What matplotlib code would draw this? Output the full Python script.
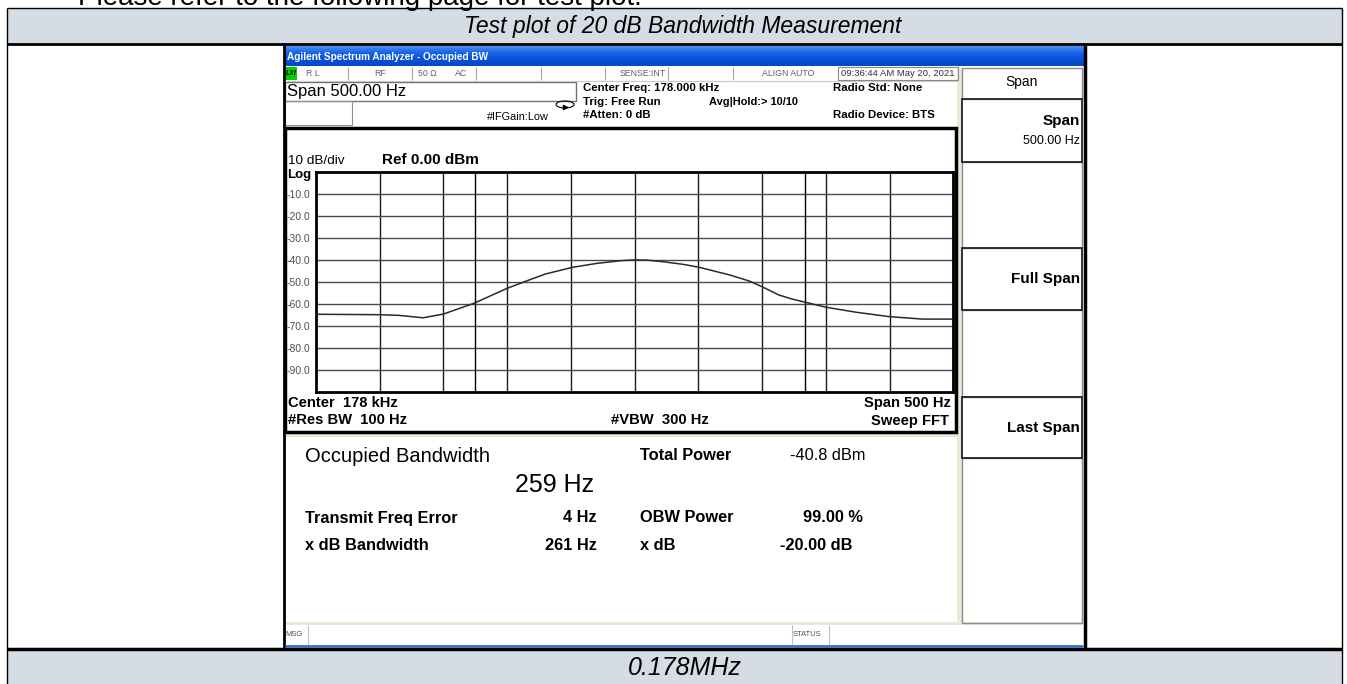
import numpy as np
import matplotlib
matplotlib.use("Agg")
import matplotlib.pyplot as plt
from matplotlib.patches import Rectangle, Ellipse
from matplotlib.colors import LinearSegmentedColormap

plt.rcParams["font.family"] = ["Liberation Sans", "DejaVu Sans"]

# trace (offset from center, dBm)
CENTER_HZ = 178000
SPAN_HZ = 500
freq_offset_hz = [-250, -200, -185, -166, -150, -126, -100, -85, -70, -49, -30, -10, 0, 10,
                  22, 38, 51, 75, 90, 100, 113, 123, 135, 150, 174, 200, 226, 250]
level_dbm = [-64.8, -65.0, -65.3, -66.4, -64.7, -59.8, -53.0, -49.7, -46.5, -43.5, -41.7, -40.4,
             -40.1, -40.2, -40.9, -42.1, -43.5, -47.0, -49.7, -52.3, -56.0, -57.8, -59.5, -61.6,
             -63.9, -65.9, -67.0, -67.0]
obw_edges_hz = [-125.5, 133.5]
ref_level = 0.0
db_per_div = 10
y_tick_labels = ["-10.0", "-20.0", "-30.0", "-40.0", "-50.0", "-60.0", "-70.0", "-80.0", "-90.0"]

# result table
results_left = [("Transmit Freq Error", "4 Hz"), ("x dB Bandwidth", "261 Hz")]
results_right = [("OBW Power", "99.00 %"), ("x dB", "-20.00 dB")]
softkeys = ["Span", "Full Span", "Last Span"]

W, H = 1347, 684
GRAY = "#D6DCE4"
BEIGE = "#ECE9D8"

fig = plt.figure(figsize=(W / 100, H / 100), dpi=100)
bg = fig.add_axes([0, 0, 1, 1])
bg.axis("off")


def box(x0, y0, x1, y1, fc="none", ec="none", lw=1.0, z=1):
    bg.add_patch(Rectangle((x0, y0), x1 - x0, y1 - y0, facecolor=fc, edgecolor=ec, lw=lw, zorder=z))


def txt(x, y, s, size=8, **kw):
    kw.setdefault("va", "center")
    kw.setdefault("ha", "left")
    bg.text(x, y, s, fontsize=size, zorder=5, **kw)


def vline(x, y0, y1, c="black", lw=1.0, z=3):
    bg.plot([x, x], [y0, y1], color=c, lw=lw, zorder=z, solid_capstyle="butt")


def hline(y, x0, x1, c="black", lw=1.0, z=3):
    bg.plot([x0, x1], [y, y], color=c, lw=lw, zorder=z, solid_capstyle="butt")


# document table
txt(78, 5, "Please refer to the following page for test plot.", size=20, va="baseline")
box(7, 8, 1342, 44, fc=GRAY, z=2)
txt(683, 26, "Test plot of 20 dB Bandwidth Measurement", size=16.5, style="italic", ha="center")
box(7, 649, 1342, 690, fc=GRAY)
txt(685, 668, "0.178MHz", size=18, style="italic", ha="center")
hline(8, 7, 1342, lw=1)
hline(44, 7, 1342, lw=2)
hline(649, 7, 1342, lw=2.5)
vline(7, 8, 684, lw=1)
vline(1341.5, 8, 684, lw=1)
vline(283.5, 44, 649, lw=2)
vline(1084.5, 44, 649, lw=2.5)

# analyzer window
box(285, 46, 1083, 648, fc="white", z=0.5)
blues = LinearSegmentedColormap.from_list("xp", ["#4A8CF2", "#1764E8", "#0A50D8", "#0846C4"])
grad = np.linspace(0, 1, 40).reshape(-1, 1)
bg.imshow(grad, extent=[284.5, 1083, 66, 46.5], aspect="auto", cmap=blues, origin="upper", zorder=2)
txt(287, 56.5, "Agilent Spectrum Analyzer - Occupied BW", size=7.2, color="white", weight="bold",
    family=["Liberation Sans Narrow", "Liberation Sans"])

# status row
box(285, 67, 297, 80, fc="#00D000", z=2)
txt(285.5, 73.5, "LXI", size=5, weight="bold", style="italic")
for sx in [348, 412, 476, 541, 605, 668, 733]:
    vline(sx, 67, 80, c="#A8A8A8", lw=0.8)
box(838, 67, 958, 80, ec="#888888", lw=0.8, z=2)
hline(81, 285, 958, c="#C8C8C8", lw=0.8)
for sx, s in [(306, "R L"), (380, "RF"), (418, "50 Ω"), (455, "AC")]:
    txt(sx, 73.5, s, size=6.3, color="#606060", ha="center" if s == "RF" else "left")
txt(643, 73.5, "SENSE:INT", size=6.3, color="#606060", ha="center")
txt(788, 73.5, "ALIGN AUTO", size=6.3, color="#606060", ha="center")
txt(841, 73.5, "09:36:44 AM May 20, 2021", size=6.8, color="#303030")

box(285, 82, 576, 100.7, ec="#707070", lw=1, z=2)
txt(287, 91.5, "Span 500.00 Hz", size=12)
box(285, 100.7, 352, 125, ec="#909090", lw=0.8, z=2)
bg.add_patch(Ellipse((565, 104.5), 18, 7, fc="none", ec="black", lw=0.8, zorder=3))
bg.plot([565], [107], marker=">", ms=3, color="black", zorder=4)
txt(487, 117.3, "#IFGain:Low", size=7.8)
txt(583, 88, "Center Freq: 178.000 kHz", size=8.2, weight="bold")
txt(583, 101.7, "Trig: Free Run", size=8.2, weight="bold")
txt(583, 115, "#Atten: 0 dB", size=8.2, weight="bold")
txt(709, 101.7, "Avg|Hold:> 10/10", size=7.9, weight="bold")
txt(833, 88, "Radio Std: None", size=8.2, weight="bold")
txt(833, 115, "Radio Device: BTS", size=8.2, weight="bold")

# graph window
box(285, 128, 956, 432, fc="white", ec="black", lw=2.5, z=2)
txt(288, 161, "10 dB/div", size=9.7)
txt(382, 159.5, "Ref 0.00 dBm", size=11, weight="bold")
txt(287, 175, "Log", size=9.5, weight="bold")
txt(288, 403, "Center  178 kHz", size=10.6, weight="bold")
txt(288, 420.5, "#Res BW  100 Hz", size=10.6, weight="bold")
txt(611, 420.5, "#VBW  300 Hz", size=10.6, weight="bold")
txt(951, 403, "Span 500 Hz", size=10.6, weight="bold", ha="right")
txt(949, 420.5, "Sweep FFT", size=10.6, weight="bold", ha="right")

# result panel
box(285, 433, 958, 437, fc=BEIGE, z=1)
box(957, 68, 962, 623, fc=BEIGE, z=1)
txt(305, 457, "Occupied Bandwidth", size=14.5)
txt(555, 485, "259 Hz", size=18, ha="center")
txt(640, 455, "Total Power", size=11.8, weight="bold")
txt(790, 455, "-40.8 dBm", size=11.8)
for (lab, val), yy in zip(results_left, [518, 545]):
    txt(305, yy, lab, size=11.8, weight="bold")
    txt(597, yy, val, size=11.8, weight="bold", ha="right")
for (lab, val), (yy, xr) in zip(results_right, [(518, 863), (545, 853)]):
    txt(640, yy, lab, size=11.8, weight="bold")
    txt(xr, yy, val, size=11.8, weight="bold", ha="right")

# message bar
box(285, 622, 1083, 625, fc=BEIGE, z=1)
txt(285.5, 635, "MSG", size=5.5, color="#505050")
vline(307.7, 625, 645, c="#C0C0C0", lw=0.8)
txt(793, 635, "STATUS", size=5.5, color="#505050")
vline(792, 625, 645, c="#C0C0C0", lw=0.8)
vline(828.6, 625, 645, c="#C0C0C0", lw=0.8)
hline(646, 285, 1083, c="#3A6EC8", lw=2, z=3)

# softkeys
box(962, 68, 1082, 99.3, ec="#8A8A8A", lw=1, z=2)
txt(1022, 82, softkeys[0], size=10, ha="center")
key_boxes = [(99.3, 161.7), (248.3, 310.3), (396.7, 458.3)]
empty_boxes = [(161.7, 248.3), (310.3, 396.7), (458.3, 623)]
for y0, y1 in empty_boxes:
    box(962, y0, 1082, y1, ec="#8A8A8A", lw=1, z=2)
for (y0, y1), name in zip(key_boxes, softkeys):
    box(962, y0, 1082, y1, ec="#222222", lw=1.3, z=2)
txt(1080, 121, softkeys[0], size=11, weight="bold", ha="right")
txt(1080, 141, "500.00 Hz", size=9, ha="right")
txt(1080, 279.3, softkeys[1], size=11, weight="bold", ha="right")
txt(1080, 428, softkeys[2], size=11, weight="bold", ha="right")

bg.set_xlim(0, W)
bg.set_ylim(H, 0)

# trace axes
x0, x1, y0, y1 = 316, 953.3, 171.7, 391.7
ax = fig.add_axes([x0 / W, 1 - y1 / H, (x1 - x0) / W, (y1 - y0) / H], zorder=5)
ax.set_facecolor("white")
freqs = CENTER_HZ + np.array(freq_offset_hz)
ax.plot(freqs, level_dbm, color="#2a2a2a", lw=1.1, zorder=4)
for e in obw_edges_hz:
    ax.axvline(CENTER_HZ + e, color="black", lw=1, zorder=3)
ax.set_xlim(CENTER_HZ - SPAN_HZ / 2, CENTER_HZ + SPAN_HZ / 2)
ax.set_ylim(ref_level - 10 * db_per_div, ref_level)
ax.set_xticks(np.linspace(CENTER_HZ - SPAN_HZ / 2, CENTER_HZ + SPAN_HZ / 2, 11))
ax.set_xticklabels([])
ax.set_yticks(np.arange(-10, -100, -10))
ax.set_yticklabels(y_tick_labels, fontsize=7.5, color="#505050")
ax.tick_params(length=0, pad=4)
ax.grid(axis="x", color="#1a1a1a", lw=1)
ax.grid(axis="y", color="#4a4a4a", lw=1)
ax.set_axisbelow(True)
for sp in ax.spines.values():
    sp.set_linewidth(2)
    sp.set_color("black")

fig.savefig("out.png", dpi=100)
